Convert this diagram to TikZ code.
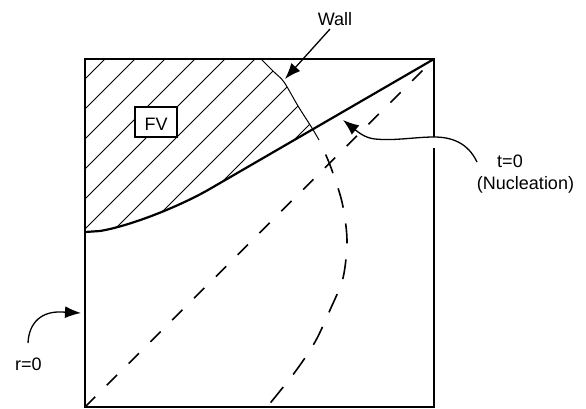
\documentclass[tikz,border=0pt]{standalone}
\usepackage{fontspec}
\setmainfont{Liberation Sans}
\usetikzlibrary{arrows.meta}
\begin{document}
\begin{tikzpicture}[x=1pt,y=-1pt,
  frame/.style={line width=1.6pt},
  front/.style={line width=2.2pt, line join=round},
  hatch/.style={line width=0.9pt},
  wallline/.style={line width=1pt},
  dashline/.style={line width=1.6pt, dash pattern=on 14.5pt off 16.3pt},
  walldash/.style={line width=1.6pt, dash pattern=on 20pt off 16pt, dash phase=20pt},
  pointer/.style={line width=1.3pt, -{Latex[length=16pt,width=12pt]}},
  lbl/.style={font=\fontsize{18}{20}\selectfont, inner sep=0pt, anchor=base},
  fvbox/.style={draw, line width=1.5pt, fill=white, minimum width=42pt, minimum height=30pt, inner sep=0pt},
]
\useasboundingbox (0,0) rectangle (586,408);
\coordinate (TL) at (85,59);
\coordinate (TR) at (434,59);
\coordinate (BL) at (85,407);
\coordinate (BR) at (434,407);
\coordinate (F0) at (85,232);
\coordinate (F1) at (100,231);
\coordinate (F2) at (208,190);
% hatching of the FV region
\begin{scope}
  \clip (F0) -- (F1) .. controls (130,226) and (178,207) .. (F2) -- (TR) -- (TL) -- cycle;
  \clip (TL) -- plot[smooth] coordinates {(261,59) (274,72) (284,82) (298,106) (312,128) (319,140)} -- (319,250) -- (85,250) -- cycle;
  \foreach \c in {20,50,...,350} \draw[hatch] (85+\c,59) -- (85,59+\c);
\end{scope}
% wall
\draw[wallline] plot[smooth] coordinates {(261,59) (274,72) (284,82) (298,106) (312,128) (319,140)};
\draw[walldash] plot[smooth] coordinates {(319,140) (330,165) (342,202) (347,240) (343,278) (330,310) (315,342) (295,372) (267,407)};
% diagonal
\draw[dashline] (BL) -- (TR);
% front (solid)
\draw[front] (F0) -- (F1) .. controls (130,226) and (178,207) .. (F2) -- (TR);
% frame
\draw[frame] (434,137) -- (TR) -- (TL) -- (BL) -- (BR) -- (434,148);
% FV box
\node[fvbox] (fv) at (156,122) {};
\node[lbl] (fvlabel) at (156,130.5) {FV};
% labels
\node[lbl] (wall) at (335,25) {Wall};
\node[lbl] (t0) at (510,167) {t=0};
\node[lbl] (nuc) at (525.5,189) {(Nucleation)};
\node[lbl] (r0) at (28.5,370) {r=0};
% arrows
\coordinate (wallTail) at (330,29);
\coordinate (wallTip) at (285,79);
\draw[pointer] (wallTail) -- (wallTip);
\coordinate (nucTail) at (477,162);
\coordinate (nucTip) at (343,120);
\draw[pointer] (nucTail) .. controls (468,143) and (452,137) .. (434,137) .. controls (415,137) and (395,141) .. (375,139) .. controls (365,138) and (358,132) .. (nucTip);
\coordinate (rTail) at (28,343);
\coordinate (rTip) at (81,313);
\draw[pointer] (rTail) .. controls (29,322) and (42,311) .. (62,312) -- (rTip);
\end{tikzpicture}
\end{document}
